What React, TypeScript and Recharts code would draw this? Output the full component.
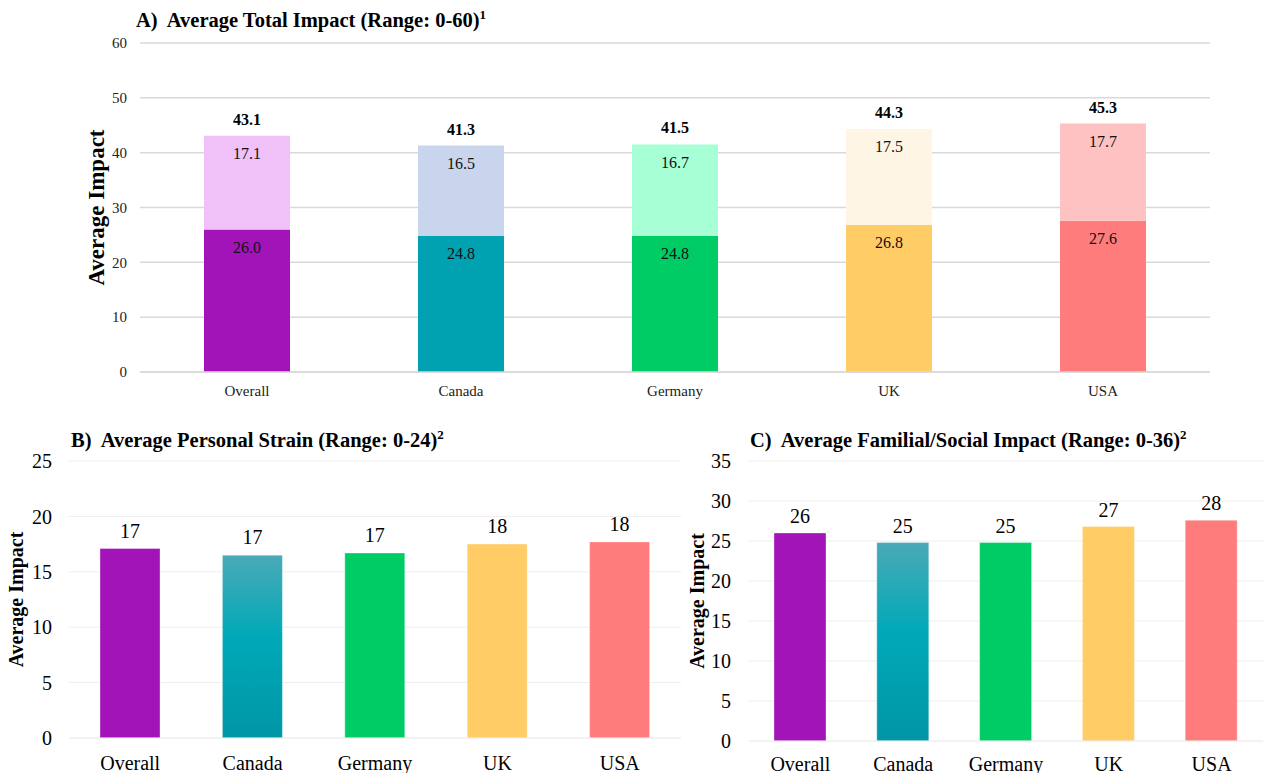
import React from 'react';
import { BarChart, Bar, XAxis, YAxis, CartesianGrid, Cell, LabelList } from 'recharts';

// Survey impact scores by country
const countries = ['Overall', 'Canada', 'Germany', 'UK', 'USA'];
const familialSocial = [26.0, 24.8, 24.8, 26.8, 27.6];
const personalStrain = [17.1, 16.5, 16.7, 17.5, 17.7];
const totalImpact = [43.1, 41.3, 41.5, 44.3, 45.3];

const ticksTotal = [0, 10, 20, 30, 40, 50, 60];
const ticksPersonal = [0, 5, 10, 15, 20, 25];
const ticksFamilial = [0, 5, 10, 15, 20, 25, 30, 35];

const darkColors = ['#a213b8', '#00a1b0', '#00cc66', '#ffcc66', '#ff7c7c'];
const lightColors = ['#f0c0f8', '#c8d5ed', '#a6ffd5', '#fff5e5', '#ffc2c2'];

const rows = countries.map((country, i) => ({
  country,
  familial: familialSocial[i],
  personal: personalStrain[i],
  total: totalImpact[i],
}));

const FONT = '"Liberation Serif", "Times New Roman", serif';

const axisTitle = (x: number, size: number) => (props: any) => {
  const vb = props.viewBox || { y: 0, height: 0 };
  const cy = vb.y + vb.height / 2;
  return (
    <text
      x={x}
      y={cy}
      transform={`rotate(-90 ${x} ${cy})`}
      textAnchor="middle"
      dominantBaseline="central"
      fontSize={size}
      fontWeight="bold"
      fontFamily={FONT}
      fill="#000"
    >
      Average Impact
    </text>
  );
};

const Title = ({ left, top, label, text, note }: { left: number; top: number; label: string; text: string; note: string }) => (
  <div
    style={{
      position: 'absolute',
      left,
      top,
      fontSize: 20.5,
      lineHeight: '20px',
      fontWeight: 'bold',
      whiteSpace: 'nowrap',
      color: '#000',
    }}
  >
    {label}&nbsp; {text}
    <span style={{ fontSize: 13, position: 'relative', top: -8 }}>{note}</span>
  </div>
);

const CanadaGradient = ({ id }: { id: string }) => (
  <defs>
    <linearGradient id={id} x1="0" y1="0" x2="0" y2="1">
      <stop offset="0%" stopColor="#4aa9b7" />
      <stop offset="45%" stopColor="#00a9b8" />
      <stop offset="100%" stopColor="#0096a6" />
    </linearGradient>
  </defs>
);

const singleFill = (gradId: string) => (i: number) => (i === 1 ? `url(#${gradId})` : darkColors[i]);

export default function App() {
  const fillB = singleFill('canadaFillB');
  const fillC = singleFill('canadaFillC');
  return (
    <div
      style={{
        position: 'absolute',
        left: 0,
        top: 0,
        width: 1263,
        height: 773,
        background: '#fff',
        fontFamily: FONT,
        overflow: 'hidden',
      }}
    >
      <Title left={136} top={10} label="A)" text="Average Total Impact (Range: 0-60)" note="1" />
      <Title left={71} top={430} label="B)" text="Average Personal Strain (Range: 0-24)" note="2" />
      <Title left={750} top={430} label="C)" text="Average Familial/Social Impact (Range: 0-36)" note="2" />

      {/* A: stacked total impact */}
      <div style={{ position: 'absolute', left: 0, top: 0 }}>
        <BarChart width={1263} height={400} data={rows} margin={{ top: 43, right: 53, left: 0, bottom: 0 }}>
          <CartesianGrid vertical={false} stroke="#d9d9d9" strokeWidth={1.5} />
          <XAxis
            dataKey="country"
            height={28}
            tickLine={false}
            axisLine={{ stroke: '#d9d9d9', strokeWidth: 1.5 }}
            tickMargin={7}
            tick={{ fontSize: 15, fill: '#222', fontFamily: FONT }}
          />
          <YAxis
            width={140}
            domain={[0, 60]}
            ticks={ticksTotal}
            interval={0}
            tickLine={false}
            axisLine={false}
            tickMargin={7}
            tick={{ fontSize: 15, fill: '#222', fontFamily: FONT }}
            label={axisTitle(96, 23)}
          />
          <Bar dataKey="familial" stackId="a" barSize={86} isAnimationActive={false}>
            {rows.map((r, i) => (
              <Cell key={r.country} fill={darkColors[i]} />
            ))}
            <LabelList
              dataKey="familial"
              position="insideTop"
              offset={12}
              formatter={(v: any) => Number(v).toFixed(1)}
              style={{ fontSize: 16, fill: '#111', fontFamily: FONT }}
            />
          </Bar>
          <Bar dataKey="personal" stackId="a" barSize={86} isAnimationActive={false}>
            {rows.map((r, i) => (
              <Cell key={r.country} fill={lightColors[i]} />
            ))}
            <LabelList
              dataKey="personal"
              position="insideTop"
              offset={12}
              formatter={(v: any) => Number(v).toFixed(1)}
              style={{ fontSize: 16, fill: '#111', fontFamily: FONT }}
            />
            <LabelList
              dataKey="total"
              position="top"
              offset={11}
              formatter={(v: any) => Number(v).toFixed(1)}
              style={{ fontSize: 16, fontWeight: 'bold', fill: '#000', fontFamily: FONT }}
            />
          </Bar>
        </BarChart>
      </div>

      {/* B: personal strain */}
      <div style={{ position: 'absolute', left: 0, top: 420 }}>
        <BarChart width={690} height={353} data={rows} margin={{ top: 41, right: 9, left: 0, bottom: 0 }}>
          <CanadaGradient id="canadaFillB" />
          <CartesianGrid vertical={false} stroke="#eeeeee" />
          <XAxis
            dataKey="country"
            height={35}
            tickLine={false}
            axisLine={{ stroke: '#eeeeee' }}
            tickMargin={12}
            tick={{ fontSize: 20, fill: '#000', fontFamily: FONT }}
          />
          <YAxis
            width={69}
            domain={[0, 25]}
            ticks={ticksPersonal}
            interval={0}
            tickLine={false}
            axisLine={false}
            tickMargin={11}
            tick={{ fontSize: 20, fill: '#000', fontFamily: FONT }}
            label={axisTitle(16, 20)}
          />
          <Bar dataKey="personal" barSize={60} isAnimationActive={false} stroke="rgba(255,255,255,0.35)" strokeWidth={1}>
            {rows.map((r, i) => (
              <Cell key={r.country} fill={fillB(i)} />
            ))}
            <LabelList
              dataKey="personal"
              position="top"
              offset={11}
              formatter={(v: any) => Math.round(Number(v)).toString()}
              style={{ fontSize: 20, fill: '#000', fontFamily: FONT }}
            />
          </Bar>
        </BarChart>
      </div>

      {/* C: familial/social impact */}
      <div style={{ position: 'absolute', left: 680, top: 420 }}>
        <BarChart width={583} height={353} data={rows} margin={{ top: 41, right: 0, left: 0, bottom: 0 }}>
          <CanadaGradient id="canadaFillC" />
          <CartesianGrid vertical={false} stroke="#eeeeee" />
          <XAxis
            dataKey="country"
            height={32}
            tickLine={false}
            axisLine={{ stroke: '#eeeeee' }}
            tickMargin={10}
            tick={{ fontSize: 20, fill: '#000', fontFamily: FONT }}
          />
          <YAxis
            width={69}
            domain={[0, 35]}
            ticks={ticksFamilial}
            interval={0}
            tickLine={false}
            axisLine={false}
            tickMargin={12}
            tick={{ fontSize: 20, fill: '#000', fontFamily: FONT }}
            label={axisTitle(17, 20)}
          />
          <Bar dataKey="familial" barSize={52} isAnimationActive={false} stroke="rgba(255,255,255,0.35)" strokeWidth={1}>
            {rows.map((r, i) => (
              <Cell key={r.country} fill={fillC(i)} />
            ))}
            <LabelList
              dataKey="familial"
              position="top"
              offset={10}
              formatter={(v: any) => Math.round(Number(v)).toString()}
              style={{ fontSize: 20, fill: '#000', fontFamily: FONT }}
            />
          </Bar>
        </BarChart>
      </div>
    </div>
  );
}
